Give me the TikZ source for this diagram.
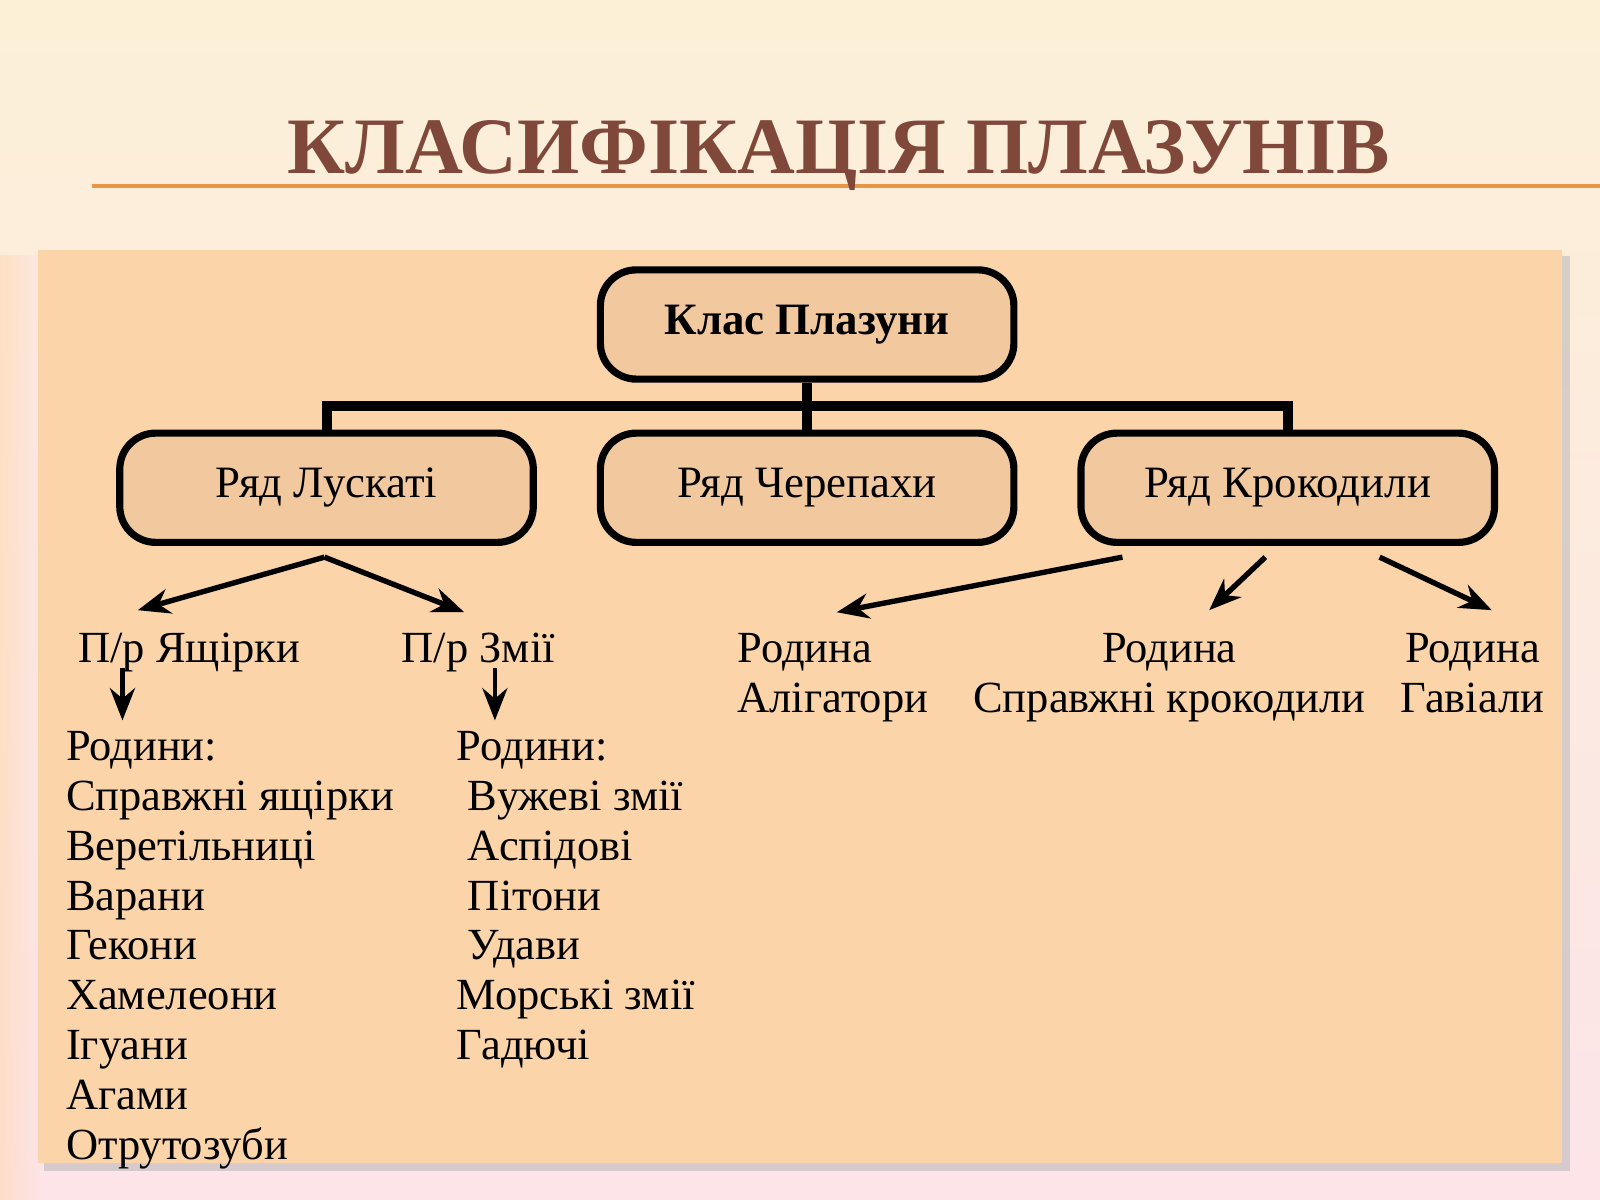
\documentclass[tikz,border=0pt]{standalone}
\usepackage{fontspec}
\setmainfont{Liberation Serif}
\usetikzlibrary{arrows.meta}
\definecolor{panel}{RGB}{252,212,170}
\definecolor{boxf}{RGB}{242,200,158}
\definecolor{titlec}{RGB}{128,72,58}
\definecolor{topbg}{RGB}{252,240,215}
\definecolor{botbg}{RGB}{252,228,232}
\definecolor{linec}{RGB}{232,150,70}
\tikzset{
 box/.style={draw=black,line width=2pt,rounded corners=10pt,fill=boxf,minimum width=4.05cm,minimum height=1.07cm,font=\fontsize{12.5}{15}\selectfont},
 txt/.style={font=\fontsize{12.4}{13.9}\selectfont,align=left,inner sep=0pt},
 arr/.style={line width=1.5pt,-{Stealth[length=9pt,width=7pt]}},
 conn/.style={line width=2.8pt}
}
\begin{document}
\begin{tikzpicture}[x=0.01cm,y=-0.01cm]
\useasboundingbox (0,0) rectangle (1568,1176);
\shade[top color=topbg,bottom color=botbg] (0,0) rectangle (1568,1176);
\shade[left color=orange!30,right color=botbg,opacity=0.6] (0,250) rectangle (40,1176);
\draw[linec,line width=1.2pt] (90,182) -- (1568,182);
\node[text=titlec,font=\bfseries\fontsize{22.3}{26}\selectfont] (title) at (822,152) {КЛАСИФІКАЦІЯ ПЛАЗУНІВ};
\fill[black!30,opacity=0.5] (43,251) rectangle (1539,1148);
\fill[panel] (37,245) rectangle (1531,1140);
\node[box,font=\bfseries\fontsize{12.5}{15}\selectfont] (top) at (791,318) {Клас Плазуни};
\node[box] (l) at (320,478) {Ряд Лускаті};
\node[box] (t) at (791,478) {Ряд Черепахи};
\node[box] (c) at (1262,478) {Ряд Крокодили};
\coordinate (j) at (791,398);
\draw[conn] (top.south) -- (j);
\draw[conn] (l.north) |- (j) -| (c.north);
\draw[conn] (j) -- (t.north);
\coordinate (ls) at (318,546);
\coordinate (c1) at (1100,546);
\coordinate (c2) at (1240,546);
\coordinate (c3) at (1352,546);
\node[txt,anchor=north west] (lz) at (76,620) {П/р Ящірки};
\node[txt,anchor=north west] (zm) at (393,620) {П/р Змії};
\draw[arr] (ls) -- (135,598);
\draw[arr] (ls) -- (455,600);
\node[txt,anchor=north west] (al) at (722,620) {Родина\\Алігатори};
\node[txt,align=center,anchor=north] (kr) at (1146,620) {Родина\\Справжні крокодили};
\node[txt,align=center,anchor=north] (gv) at (1443,620) {Родина\\Гавіали};
\draw[arr] (c1) -- (820,600);
\draw[arr] (c2) -- (1185,598);
\draw[arr] (c3) -- (1462,598);
\node[txt,anchor=north west] (ll) at (64,716) {Родини:\\Справжні ящірки\\Веретільниці\\Варани\\Гекони\\Хамелеони\\Ігуани\\Агами\\Отрутозуби};
\node[txt,anchor=north west] (zl) at (447,716) {Родини:\\\ Вужеві змії\\\ Аспідові\\\ Пітони\\\ Удави\\Морські змії\\Гадючі};
\draw[arr,line width=1.2pt] (120,655) -- (120,706);
\draw[arr,line width=1.2pt] (485,655) -- (485,706);
\end{tikzpicture}
\end{document}
